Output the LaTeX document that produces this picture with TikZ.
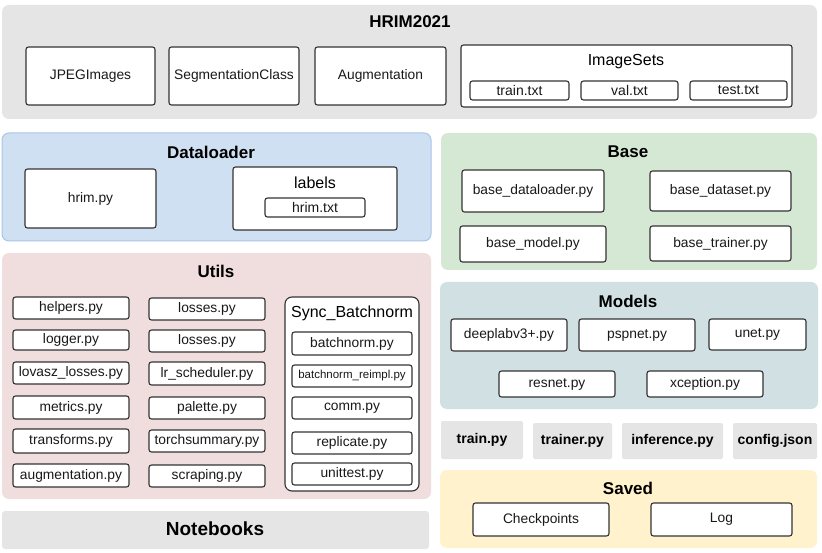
\documentclass[tikz,border=0pt]{standalone}
\usepackage{fontspec}
\setmainfont{Liberation Sans}
\begin{document}
\begin{tikzpicture}[x=1pt,y=-1pt,
  fbox/.style={draw=black!80, line width=1.1pt, fill=white, rounded corners=2.5pt, inner sep=0pt, outer sep=0pt, font=\fontsize{13.8}{15}\selectfont, text=black!90},
  cont/.style={rounded corners=7pt, inner sep=0pt, outer sep=0pt},
  ttl/.style={font=\fontsize{17}{19}\selectfont\bfseries, inner sep=0pt},
  sub/.style={font=\fontsize{16}{18}\selectfont, inner sep=0pt},
  gbox/.style={fill=black!10, rounded corners=2pt, inner sep=0pt, outer sep=0pt, font=\fontsize{14}{16}\selectfont\bfseries}]
\newcommand\bx[7][fbox]{%
 \pgfmathsetmacro\cx{(#3+#5)/2}\pgfmathsetmacro\cy{(#4+#6)/2}%
 \pgfmathsetmacro\w{#5-#3}\pgfmathsetmacro\h{#6-#4}%
 \node[#1, minimum width=\w pt, minimum height=\h pt] (#2) at (\cx,\cy) {#7};}
\useasboundingbox (0,0) rectangle (822,553);
\fill[white] (0,0) rectangle (822,553);
% HRIM2021
\bx[cont, fill=black!10]{hrim}{2}{5}{817}{119}{}
\node[ttl] (hrimt) at (410,22) {HRIM2021};
\bx{jpeg}{26}{47}{155}{105}{JPEGImages}
\bx{segc}{169}{47}{299}{105}{SegmentationClass}
\bx{aug}{315}{47}{446}{105}{Augmentation}
\bx{imgsets}{461}{45}{792}{107}{}
\node[sub] (imgsetst) at (626,62) {ImageSets};
\bx[fbox, font=\fontsize{14}{16}\selectfont]{train}{470}{81}{569}{100}{train.txt}
\bx[fbox, font=\fontsize{14}{16}\selectfont]{val}{581}{81}{678}{100}{val.txt}
\bx[fbox, font=\fontsize{14}{16}\selectfont]{test}{690}{81}{787}{100}{test.txt}
% Dataloader
\bx[cont, fill={rgb,255:red,207;green,224;blue,242}, draw={rgb,255:red,170;green,196;blue,234}, line width=1pt]{dl}{2}{133}{431}{241}{}
\node[ttl] (dlt) at (211,152) {Dataloader};
\bx{hrimpy}{25}{169}{156}{228}{hrim.py}
\bx{labels}{233}{167}{397}{230}{}
\node[sub] (labelst) at (315,183) {labels};
\bx[fbox, font=\fontsize{14}{16}\selectfont]{hrimtxt}{265}{198}{365}{217}{hrim.txt}
% Base
\bx[cont, fill={rgb,255:red,213;green,232;blue,212}]{base}{441}{133}{817}{270}{}
\node[ttl] (baset) at (628,152) {Base};
\bx{bdl}{462}{170}{604}{212}{base\_dataloader.py}
\bx{bds}{650}{171}{791}{211}{base\_dataset.py}
\bx{bmod}{460}{226}{606}{262}{base\_model.py}
\bx{btr}{650}{226}{791}{261}{base\_trainer.py}
% Utils
\bx[cont, fill={rgb,255:red,240;green,221;blue,222}]{utils}{2}{253}{431}{499}{}
\node[ttl] (utilst) at (216,271) {Utils};
\bx{helpers}{13}{297}{129}{319}{helpers.py}
\bx{logger}{13}{330}{129}{350}{logger.py}
\bx{lovasz}{13}{362}{129}{384}{lovasz\_losses.py}
\bx{metrics}{13}{396}{129}{419}{metrics.py}
\bx{transforms}{13}{429}{129}{453}{transforms.py}
\bx{augpy}{13}{464}{129}{487}{augmentation.py}
\bx{lossesa}{149}{298}{265}{320}{losses.py}
\bx{lossesb}{149}{330}{265}{352}{losses.py}
\bx{lrs}{149}{362}{265}{385}{lr\_scheduler.py}
\bx{palette}{149}{397}{265}{419}{palette.py}
\bx{torchs}{149}{430}{265}{452}{torchsummary.py}
\bx{scraping}{149}{465}{265}{487}{scraping.py}
\bx[fbox, rounded corners=7pt]{sync}{285}{297}{419}{491}{}
\node[sub] (synct) at (352,313) {Sync\_Batchnorm};
\bx{bn}{292}{332}{412}{355}{batchnorm.py}
\bx[fbox, font=\fontsize{11.5}{13}\selectfont]{bnr}{292}{365}{412}{387}{batchnorm\_reimpl.py}
\bx{comm}{292}{397}{412}{419}{comm.py}
\bx{repl}{292}{432}{412}{454}{replicate.py}
\bx{unit}{292}{463}{412}{485}{unittest.py}
% Models
\bx[cont, fill={rgb,255:red,208;green,224;blue,227}]{models}{440}{282}{818}{409}{}
\node[ttl] (modelst) at (628,301) {Models};
\bx{deeplab}{451}{319}{567}{351}{deeplabv3+.py}
\bx{psp}{579}{319}{695}{351}{pspnet.py}
\bx{unet}{709}{319}{806}{350}{unet.py}
\bx{resnet}{499}{371}{615}{397}{resnet.py}
\bx{xcep}{647}{371}{763}{397}{xception.py}
% gray row
\bx[gbox]{trainpy}{441}{421}{523}{459}{train.py}
\bx[gbox]{trainerpy}{533}{423}{612}{459}{trainer.py}
\bx[gbox]{infpy}{622}{423}{723}{459}{inference.py}
\bx[gbox]{config}{733}{423}{817}{459}{config.json}
% Saved
\bx[cont, fill={rgb,255:red,255;green,242;blue,204}]{saved}{440}{470}{817}{548}{}
\node[ttl] (savedt) at (628,488) {Saved};
\bx{ckpt}{473}{503}{609}{536}{Checkpoints}
\bx{log}{651}{503}{792}{536}{Log}
% Notebooks
\bx[cont, fill=black!10, rounded corners=3pt]{nb}{2}{511}{429}{549}{}
\node[ttl, font=\fontsize{19}{21}\selectfont\bfseries] (nbt) at (215,529) {Notebooks};
\end{tikzpicture}
\end{document}
